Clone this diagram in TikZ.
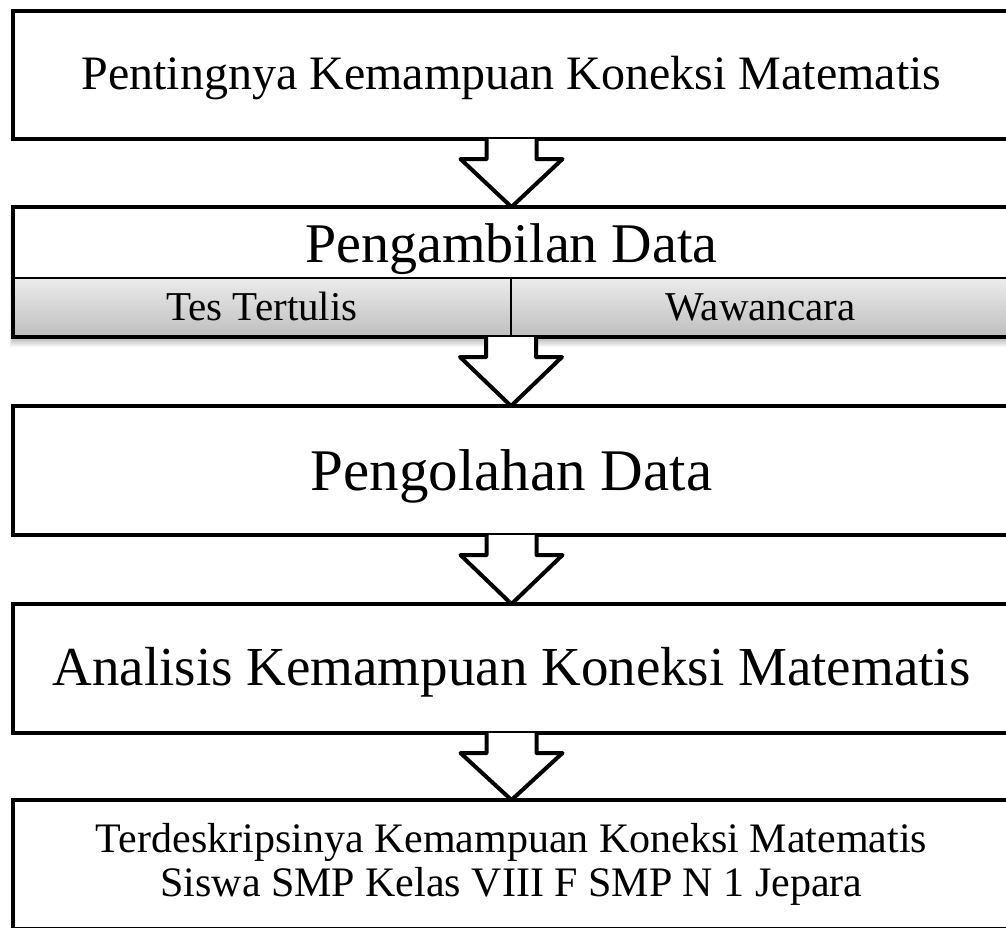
\documentclass[tikz,border=0pt]{standalone}
\usepackage{fontspec}
\setmainfont{Liberation Serif}
\usetikzlibrary{calc}
\definecolor{gtop}{RGB}{236,236,236}
\definecolor{gbot}{RGB}{190,190,190}
\newcommand{\blockarrow}[3]{%
  \path ($(#1)+(0,20)$) coordinate (#3h);
  \path (#3h |- #2) coordinate (#3t);
  \fill[white] ($(#1)+(-25,0)$) -- ($(#3h)+(-25,0)$) -- ($(#3h)+(-51,0)$) -- (#3t)
     -- ($(#3h)+(51,0)$) -- ($(#3h)+(25,0)$) -- ($(#1)+(25,0)$) -- cycle;
  \draw[arr] ($(#1)+(-25,0)$) -- ($(#3h)+(-25,0)$) -- ($(#3h)+(-51,0)$) -- (#3t)
     -- ($(#3h)+(51,0)$) -- ($(#3h)+(25,0)$) -- ($(#1)+(25,0)$);
}
\begin{document}
\begin{tikzpicture}[x=1pt,y=-1pt,
  box/.style={draw=black, line width=4pt, fill=white, outer sep=0pt, inner sep=0pt,
              minimum width=997pt, anchor=north west, align=center},
  onel/.style={text height=#1, text depth=0pt},
  cell/.style={draw=black, line width=2pt, outer sep=0pt, inner sep=0pt, anchor=north west,
               top color=gtop, bottom color=gbot, font=\fontsize{41}{45}\selectfont, onel=25pt},
  arr/.style={line width=4pt, line join=round}]
\useasboundingbox[fill=white] (0,0) rectangle (1006,927);

% box 1
\node[box, onel=28pt, minimum height=128pt, font=\fontsize{48}{52}\selectfont] (b1) at (13,11)
  {Pentingnya Kemampuan Koneksi Matematis};

% box 2 shadow
\foreach \d in {1,2,...,10} {
  \fill[black, opacity=0.03] (13-\d*0.3,207+\d*0.8) rectangle (1010,337+\d);
}
% box 2
\node[box, onel=40pt, draw=none, minimum height=71pt, font=\fontsize{56}{60}\selectfont] (b2) at (13,207)
  {Pengambilan Data};
\node[cell, minimum width=498pt, minimum height=59pt] (c1) at (13,278) {Tes Tertulis};
\node[cell, minimum width=499pt, minimum height=59pt] (c2) at (511,278) {Wawancara};
\draw[line width=4pt] (b2.north west) rectangle (c2.south east);

% box 3
\node[box, onel=40pt, minimum height=129pt, font=\fontsize{59}{63}\selectfont] (b3) at (13,406)
  {Pengolahan Data};

% box 4
\node[box, onel=33pt, minimum height=129pt, font=\fontsize{55}{59}\selectfont] (b4) at (13,604)
  {Analisis Kemampuan Koneksi Matematis};

% box 5
\node[box, minimum height=129pt, font=\fontsize{42}{44}\selectfont] (b5) at (13,800)
  {Terdeskripsinya Kemampuan Koneksi Matematis\\Siswa SMP Kelas VIII F SMP N 1 Jepara};

% arrows
\blockarrow{b1.south}{b2.north}{a1}
\blockarrow{c1.south east}{b3.north}{a2}
\blockarrow{b3.south}{b4.north}{a3}
\blockarrow{b4.south}{b5.north}{a4}
\end{tikzpicture}
\end{document}
